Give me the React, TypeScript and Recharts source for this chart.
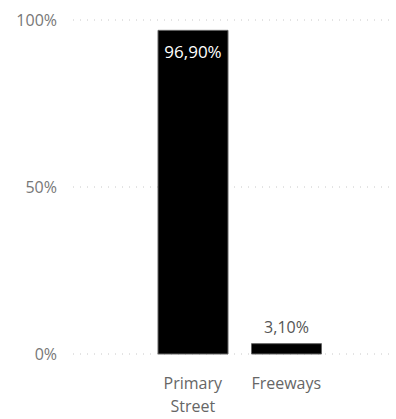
import { BarChart, Bar, XAxis, YAxis, CartesianGrid, LabelList } from 'recharts'

const categories = ['Primary Street', 'Freeways']
const shares = [0.969, 0.031]
const yTicks = [0, 0.5, 1]

const data = categories.map((name, i) => ({ name, share: shares[i] }))

const FONT = '"Open Sans", "Noto Sans", sans-serif'

const pct = (v: number, digits: number) => (v * 100).toFixed(digits).replace('.', ',') + '%'

function CategoryTick({ x, y, payload }: any) {
  const words = String(payload.value).split(' ')
  return (
    <text x={x} y={y} textAnchor="middle" fill="#666" fontSize={16} fontFamily={FONT}>
      {words.map((w, i) => (
        <tspan key={i} x={x} dy={i === 0 ? 33 : 23}>
          {w}
        </tspan>
      ))}
    </text>
  )
}

function ValueLabel({ x, y, width, value }: any) {
  const inside = value > 0.5
  return (
    <text
      x={x + width / 2}
      y={inside ? y + 28 : y - 11}
      textAnchor="middle"
      fill={inside ? '#fff' : '#555'}
      fontSize={inside ? 17 : 16}
      fontFamily={FONT}
    >
      {pct(value, 2)}
    </text>
  )
}

export default function App() {
  return (
    <div style={{ position: 'absolute', left: 0, top: 0 }}>
      <BarChart width={396} height={419} data={data} margin={{ top: 20, right: 4, left: 0, bottom: 0 }}>
        <CartesianGrid vertical={false} stroke="#c8c8c8" strokeDasharray="1 6" />
        <XAxis
          dataKey="name"
          axisLine={false}
          tickLine={false}
          tickSize={0}
          height={65}
          interval={0}
          padding={{ left: 73, right: 59 }}
          tick={<CategoryTick />}
        />
        <YAxis
          domain={[0, 1]}
          ticks={yTicks}
          axisLine={false}
          tickLine={false}
          tickSize={0}
          tickMargin={16}
          width={73}
          tickFormatter={(v: number) => pct(v, 0)}
          tick={{ fill: '#777', fontSize: 16, fontFamily: FONT }}
        />
        <Bar dataKey="share" fill="#000" stroke="#666" strokeWidth={1} barSize={70} isAnimationActive={false}>
          <LabelList dataKey="share" content={<ValueLabel />} />
        </Bar>
      </BarChart>
    </div>
  )
}
